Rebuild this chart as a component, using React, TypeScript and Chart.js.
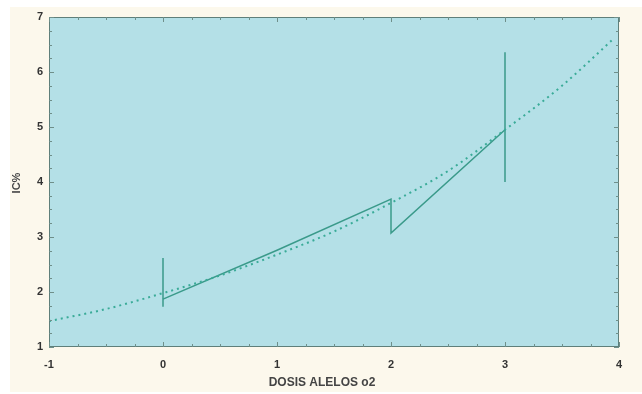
import React, { useEffect, useRef } from "react";
import { Chart, registerables } from "chart.js";

Chart.register(...registerables);

const xTickValues = [-1, 0, 1, 2, 3, 4];
const yTickValues = [1, 2, 3, 4, 5, 6, 7];
const meanX = [0, 1, 2, 2, 3];
const meanY = [1.87, 2.76, 3.69, 3.07, 4.95];
const errX = [0, 3];
const errLow = [1.73, 4.0];
const errHigh = [2.62, 6.36];
const fitX = [-1, -0.5, 0, 0.5, 1, 1.5, 2, 2.5, 3, 3.5, 3.95];
const fitY = [1.47, 1.69, 1.98, 2.3, 2.68, 3.1, 3.62, 4.2, 4.95, 5.75, 6.6];
const xTitle = "DOSIS ALELOS o2";
const yTitle = "IC%";

const LINE = "#3a9a8a";
const PLOT_BG = "#b4e0e7";
const FONT = "Arial, 'Liberation Sans', sans-serif";

const framePlugin = {
  id: "frame",
  beforeDatasetsDraw(chart: any) {
    const { ctx, chartArea: a } = chart;
    ctx.save();
    ctx.fillStyle = PLOT_BG;
    ctx.fillRect(a.left, a.top, a.right - a.left, a.bottom - a.top);
    ctx.restore();
  },
  afterDatasetsDraw(chart: any) {
    const { ctx, chartArea: a, scales } = chart;
    ctx.save();
    ctx.strokeStyle = "#5f7f7a";
    ctx.lineWidth = 1;
    ctx.strokeRect(a.left + 0.5, a.top + 0.5, a.right - a.left - 1, a.bottom - a.top - 1);
    ctx.strokeStyle = "#6f8f8a";
    ctx.beginPath();
    const xs = scales.x;
    const ys = scales.y;
    for (let v = -1; v <= 4.001; v += 0.25) {
      const p = Math.round(xs.getPixelForValue(v)) + 0.5;
      const major = Math.abs(v - Math.round(v)) < 1e-6;
      const len = major ? 5 : 3;
      ctx.moveTo(p, a.bottom);
      ctx.lineTo(p, a.bottom - len);
      ctx.moveTo(p, a.top);
      ctx.lineTo(p, a.top + len);
    }
    for (let v = 1; v <= 7.001; v += 0.25) {
      const p = Math.round(ys.getPixelForValue(v)) + 0.5;
      const major = Math.abs(v - Math.round(v)) < 1e-6;
      const len = major ? 5 : 3;
      ctx.moveTo(a.left, p);
      ctx.lineTo(a.left + len, p);
      ctx.moveTo(a.right, p);
      ctx.lineTo(a.right - len, p);
    }
    ctx.stroke();
    // axis titles
    ctx.fillStyle = "#444";
    ctx.textAlign = "center";
    ctx.textBaseline = "middle";
    ctx.font = `bold 12px ${FONT}`;
    ctx.fillText(xTitle, (a.left + a.right) / 2 - 12, 383);
    ctx.translate(17, (a.top + a.bottom) / 2 + 1);
    ctx.rotate(-Math.PI / 2);
    ctx.font = `bold 11px ${FONT}`;
    ctx.fillText(yTitle, 0, 0);
    ctx.restore();
  },
};

export default function App() {
  const ref = useRef<HTMLCanvasElement | null>(null);

  useEffect(() => {
    if (!ref.current) return;
    const meanData = meanX.map((x, i) => ({ x, y: meanY[i] }));
    const fitData = fitX.map((x, i) => ({ x, y: fitY[i] }));
    const errSets = errX.map((x, i) => ({
      type: "line" as const,
      data: [
        { x, y: errLow[i] },
        { x, y: errHigh[i] },
      ],
      borderColor: LINE,
      borderWidth: 1.5,
      pointRadius: 0,
      tension: 0,
    }));
    const chart = new Chart(ref.current, {
      type: "line",
      data: {
        datasets: [
          {
            data: fitData,
            borderColor: "#3aab98",
            borderWidth: 2,
            borderDash: [2, 4],
            pointRadius: 0,
            cubicInterpolationMode: "monotone",
          },
          {
            data: meanData,
            borderColor: LINE,
            borderWidth: 1.5,
            pointRadius: 0,
            tension: 0,
          },
          ...errSets,
        ] as any,
      },
      options: {
        animation: false,
        responsive: false,
        parsing: false as any,
        layout: { padding: { left: 0, top: 17, right: 23, bottom: 0 } },
        plugins: { legend: { display: false }, tooltip: { enabled: false } },
        scales: {
          x: {
            type: "linear",
            min: -1,
            max: 4,
            afterBuildTicks: (s: any) => {
              s.ticks = xTickValues.map((v) => ({ value: v }));
            },
            afterFit: (s: any) => {
              s.height = 47;
            },
            grid: { display: false, drawTicks: false },
            border: { display: false },
            ticks: {
              padding: 11,
              color: "#333",
              font: { family: FONT, size: 11, weight: "bold" },
              callback: (v: any) => String(v),
            },
          },
          y: {
            type: "linear",
            min: 1,
            max: 7,
            afterBuildTicks: (s: any) => {
              s.ticks = yTickValues.map((v) => ({ value: v }));
            },
            afterFit: (s: any) => {
              s.width = 49;
            },
            grid: { display: false, drawTicks: false },
            border: { display: false },
            ticks: {
              padding: 6,
              color: "#333",
              font: { family: FONT, size: 11, weight: "bold" },
              callback: (v: any) => String(v),
            },
          },
        },
      },
      plugins: [framePlugin],
    });
    return () => chart.destroy();
  }, []);

  return (
    <div
      style={{
        position: "fixed",
        left: 0,
        top: 0,
        width: 642,
        height: 394,
        background: "#ffffff",
      }}
    >
      <div
        style={{
          position: "absolute",
          left: 10,
          top: 7,
          width: 632,
          height: 385,
          background: "#fcf8ec",
        }}
      />
      <canvas
        ref={ref}
        width={642}
        height={394}
        style={{ position: "absolute", left: 0, top: 0, width: 642, height: 394 }}
      />
    </div>
  );
}
